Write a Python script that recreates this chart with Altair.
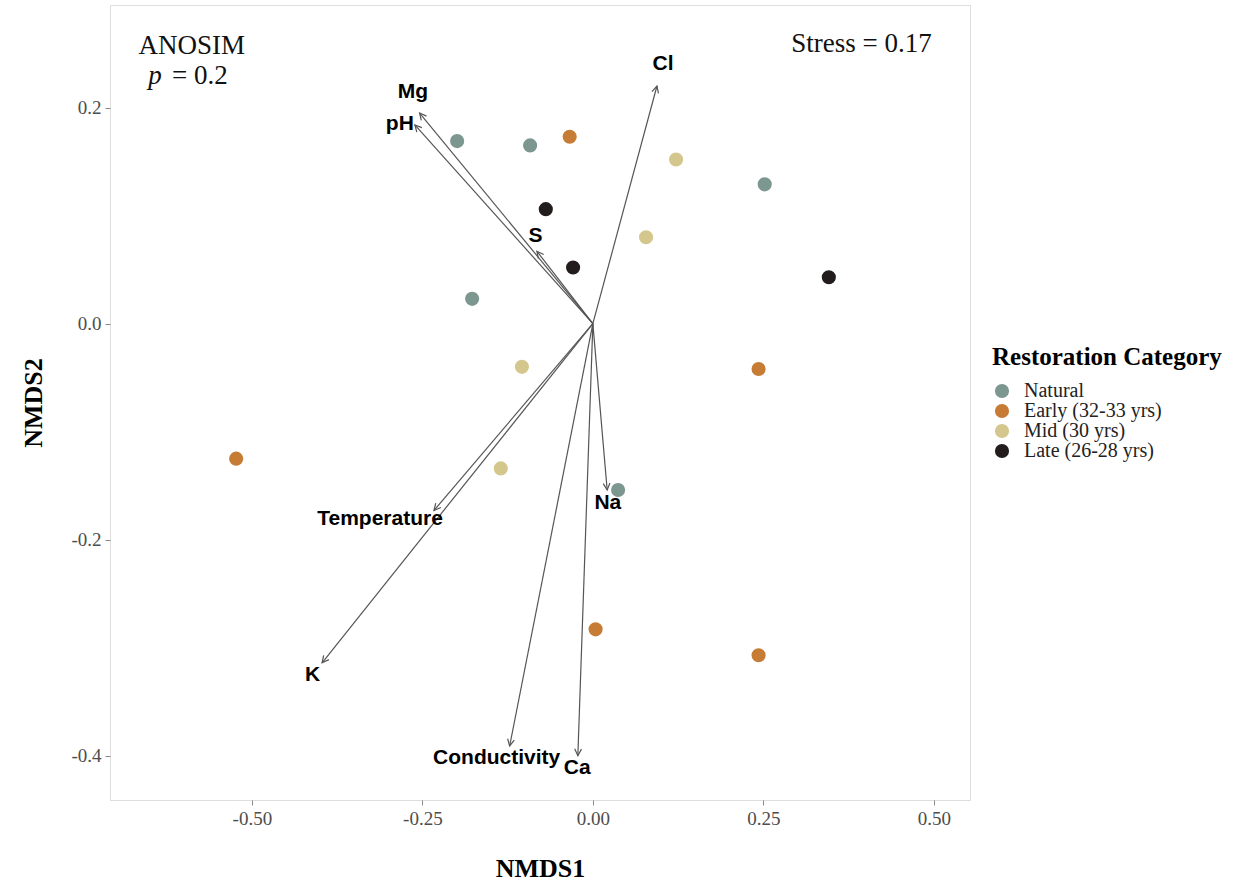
import altair as alt
import pandas as pd
import numpy as np

# ---------------- data ----------------
categories = ["Natural", "Early (32-33 yrs)", "Mid (30 yrs)", "Late (26-28 yrs)"]
cat_colors = ["#7C9690", "#C77C36", "#D4C78E", "#231C1D"]

site_cat = (["Natural"] * 5 + ["Early (32-33 yrs)"] * 5 +
            ["Mid (30 yrs)"] * 4 + ["Late (26-28 yrs)"] * 3)
site_x = [-0.199, -0.092, 0.252, -0.177, 0.037,
          -0.034, 0.243, -0.523, 0.004, 0.243,
          0.122, 0.078, -0.104, -0.135,
          -0.069, -0.029, 0.346]
site_y = [0.169, 0.165, 0.129, 0.023, -0.154,
          0.173, -0.042, -0.125, -0.283, -0.307,
          0.152, 0.080, -0.040, -0.134,
          0.106, 0.052, 0.043]

vec_names = ["Cl", "Mg", "pH", "S", "Temperature", "K", "Conductivity", "Ca", "Na"]
vec_x = [0.094, -0.254, -0.261, -0.082, -0.233, -0.397, -0.122, -0.022, 0.021]
vec_y = [0.220, 0.195, 0.184, 0.067, -0.173, -0.314, -0.391, -0.400, -0.154]
lab_x = [0.103, -0.264, -0.283, -0.084, -0.312, -0.411, -0.141, -0.023, 0.022]
lab_y = [0.240, 0.214, 0.185, 0.081, -0.181, -0.325, -0.402, -0.411, -0.166]

x_ticks = [-0.50, -0.25, 0.00, 0.25, 0.50]
y_ticks = [-0.4, -0.2, 0.0, 0.2]

X_DOMAIN = [-0.708, 0.553]
Y_DOMAIN = [-0.441, 0.295]
W, H = 860, 795

# ---------------- tables ----------------
sites = pd.DataFrame({"NMDS1": site_x, "NMDS2": site_y, "cat": site_cat})
kx = W / (X_DOMAIN[1] - X_DOMAIN[0])
ky = H / (Y_DOMAIN[1] - Y_DOMAIN[0])
vecs = pd.DataFrame({
    "name": vec_names, "x": vec_x, "y": vec_y, "lx": lab_x, "ly": lab_y,
    "x0": [0.0] * len(vec_names), "y0": [0.0] * len(vec_names),
})
vecs["angle"] = (np.degrees(np.arctan2(vecs["x"] * kx, vecs["y"] * ky)) + 360) % 360

xs = alt.Scale(domain=X_DOMAIN, nice=False, zero=False)
ys = alt.Scale(domain=Y_DOMAIN, nice=False, zero=False)

SERIF = "Liberation Serif"
SANS = "Liberation Sans"

xaxis = alt.Axis(values=x_ticks, grid=False, domain=False,
                 labelExpr="replace(format(datum.value, '.2f'), '\u2212', '-')",
                 tickColor="#888888", tickSize=5, labelFont=SERIF, labelFontSize=19,
                 labelColor="#4D4D4D", labelPadding=4, title="NMDS1", titleFont=SERIF,
                 titleFontSize=26, titleFontWeight="bold", titleColor="#000000",
                 titlePadding=27)
yaxis = alt.Axis(values=y_ticks, grid=False, domain=False,
                 labelExpr="replace(format(datum.value, '.1f'), '\u2212', '-')",
                 tickColor="#888888", tickSize=5, labelFont=SERIF, labelFontSize=19,
                 labelColor="#4D4D4D", labelPadding=4, title="NMDS2", titleFont=SERIF,
                 titleFontSize=26, titleFontWeight="bold", titleColor="#000000",
                 titlePadding=24)

base_v = alt.Chart(vecs)

lines = base_v.mark_rule(color="#555555", strokeWidth=1.2).encode(
    x=alt.X("x0:Q", scale=xs, axis=xaxis),
    y=alt.Y("y0:Q", scale=ys, axis=yaxis),
    x2="x:Q", y2="y:Q",
)

heads = base_v.mark_point(shape="M-0.55,1.1L0,0L0.55,1.1", filled=False,
                          color="#555555", strokeWidth=1.2, size=150, opacity=1).encode(
    x=alt.X("x:Q", scale=xs), y=alt.Y("y:Q", scale=ys),
    angle=alt.Angle("angle:Q", scale=None),
)

labels = base_v.mark_text(font=SANS, fontSize=21, fontWeight="bold", color="#000000",
                          align="center", baseline="middle").encode(
    x=alt.X("lx:Q", scale=xs), y=alt.Y("ly:Q", scale=ys), text="name:N",
)

points = alt.Chart(sites).mark_circle(size=200, opacity=1).encode(
    x=alt.X("NMDS1:Q", scale=xs), y=alt.Y("NMDS2:Q", scale=ys),
    color=alt.Color("cat:N", scale=alt.Scale(domain=categories, range=cat_colors),
                    sort=categories,
                    legend=alt.Legend(title="Restoration Category", orient="none",
                                      legendX=882, legendY=340, titleFont=SERIF,
                                      titleFontSize=25, titleFontWeight="bold",
                                      titleColor="#000000", titleLimit=400,
                                      labelFont=SERIF, labelLimit=400,
                                      labelFontSize=20, labelColor="#222222",
                                      symbolType="circle", symbolSize=200,
                                      symbolStrokeWidth=0, rowPadding=0,
                                      titlePadding=11, labelOffset=12)),
)

ann = pd.DataFrame({
    "x": [-0.588, -0.652, -0.617, 0.394],
    "y": [0.257, 0.229, 0.229, 0.259],
    "t": ["ANOSIM", "p", "= 0.2", "Stress = 0.17"],
    "style": ["normal", "italic", "normal", "normal"],
    "align": ["center", "left", "left", "center"],
})
ann_c = alt.Chart(ann[ann["align"] == "center"]).mark_text(
    font=SERIF, fontSize=27, color="#111111", align="center", baseline="middle").encode(
    x=alt.X("x:Q", scale=xs), y=alt.Y("y:Q", scale=ys), text="t:N")
ann_p = alt.Chart(ann[ann["style"] == "italic"]).mark_text(
    font=SERIF, fontSize=27, fontStyle="italic", color="#111111", align="left",
    baseline="middle").encode(x=alt.X("x:Q", scale=xs), y=alt.Y("y:Q", scale=ys), text="t:N")
ann_v = alt.Chart(ann[(ann["align"] == "left") & (ann["style"] == "normal")]).mark_text(
    font=SERIF, fontSize=27, color="#111111", align="left", baseline="middle").encode(
    x=alt.X("x:Q", scale=xs), y=alt.Y("y:Q", scale=ys), text="t:N")

chart = alt.layer(lines, heads, labels, points, ann_c, ann_p, ann_v).properties(
    width=W, height=H,
    autosize=alt.AutoSizeParams(type="none"),
    padding={"left": 110, "top": 5, "right": 283, "bottom": 88},
).configure_view(stroke="#999999", strokeWidth=1.2).configure(background="white")

chart.save("out.html", embed_options={"renderer": "svg", "actions": False})
